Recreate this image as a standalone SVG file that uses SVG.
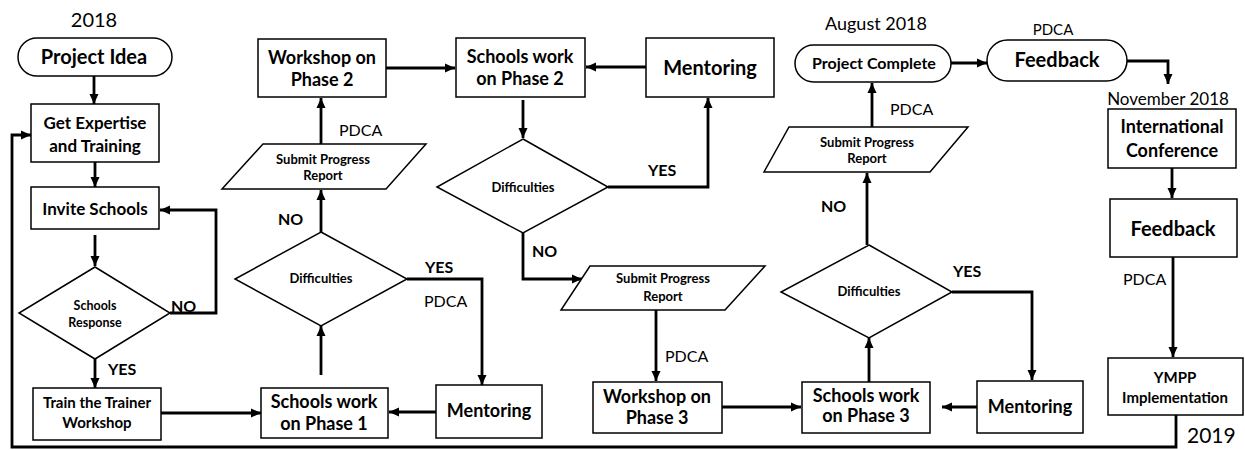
<svg xmlns="http://www.w3.org/2000/svg" width="1245" height="450" viewBox="0 0 1245 450">
<style>
.shape{fill:#fff;stroke:#000;stroke-width:1.5}
.conn{fill:none;stroke:#000;stroke-width:2.8;marker-end:url(#ah)}
.loop{fill:none;stroke:#000;stroke-width:2.8}
text{font-family:Lato,"Liberation Sans",sans-serif;fill:#000}
.b{font-weight:bold;text-anchor:middle}
.l{font-weight:bold}
.n{font-weight:normal}
</style>
<defs>
<marker id="ah" markerUnits="userSpaceOnUse" markerWidth="10" markerHeight="10" viewBox="0 0 10 10" refX="10" refY="5" orient="auto">
<path d="M0,0.5 L10,5 L0,9.5 Z" fill="#000"/>
</marker>
</defs>
<rect width="1245" height="450" fill="#fff"/>
<g id="connectors">
<path class="conn" d="M94,76 V104"/>
<path class="conn" d="M95,162 V187"/>
<path class="conn" d="M95,235 V266"/>
<path class="conn" d="M170,313 H216 V210 H160"/>
<path class="conn" d="M95,359 V388"/>
<path class="conn" d="M161,413 H261"/>
<path class="conn" d="M436,412 H389"/>
<path class="conn" d="M321,375 V326"/>
<path class="conn" d="M407,279 H482 V385"/>
<path class="conn" d="M321,232 V190"/>
<path class="conn" d="M321,144 V98"/>
<path class="conn" d="M386,68 H455"/>
<path class="conn" d="M646,67 H586"/>
<path class="conn" d="M523,100 V138"/>
<path class="conn" d="M608,187 H708 V98"/>
<path class="conn" d="M523,233 V279 H582"/>
<path class="conn" d="M656,310 V381"/>
<path class="conn" d="M722,407 H801"/>
<path class="conn" d="M977,407 H942"/>
<path class="conn" d="M869,382 V338"/>
<path class="conn" d="M952,292 H1032 V380"/>
<path class="conn" d="M867,245 V173"/>
<path class="conn" d="M872,127 V83"/>
<path class="conn" d="M951,63 H987"/>
<path class="conn" d="M1127,61 H1168 V84"/>
<path class="conn" d="M1172,168 V198"/>
<path class="conn" d="M1173,257 V357"/>
<path class="conn" d="M1176,415 V447 H12 V135 H31"/>
</g>
<g id="n-year2018"><text class="n" x="94" y="27" text-anchor="middle" font-size="20">2018</text></g>
<g id="n-project-idea"><rect class="shape" x="18" y="38" width="154" height="38" rx="19"/><text class="b" x="94" y="64" font-size="20">Project Idea</text></g>
<g id="n-expertise"><rect class="shape" x="31" y="104" width="128" height="58"/><text class="b" x="95" y="129" font-size="17">Get Expertise</text><text class="b" x="95" y="152" font-size="17">and Training</text></g>
<g id="n-invite"><rect class="shape" x="31" y="187" width="128" height="42"/><text class="b" x="95" y="215" font-size="17">Invite Schools</text></g>
<g id="n-response"><polygon class="shape" points="95,267 170,313 95,359 19,313"/><text class="b" x="95" y="310" font-size="12.5">Schools</text><text class="b" x="95" y="327" font-size="12.5">Response</text></g>
<g id="lbl-1"><text class="l" x="171" y="312" font-size="16">NO</text><text class="l" x="108" y="375" font-size="16">YES</text></g>
<g id="n-train"><rect class="shape" x="33" y="388" width="128" height="52"/><text class="b" x="97" y="408" font-size="15">Train the Trainer</text><text class="b" x="97" y="428" font-size="15">Workshop</text></g>
<g id="n-phase1"><rect class="shape" x="261" y="388" width="127" height="50"/><text class="b" x="324" y="408" font-size="18">Schools work</text><text class="b" x="324" y="430" font-size="18">on Phase 1</text></g>
<g id="n-mentoring1"><rect class="shape" x="436" y="385" width="106" height="53"/><text class="b" x="489" y="417" font-size="18">Mentoring</text></g>
<g id="n-diff1"><polygon class="shape" points="321,232 407,279 321,326 235,279"/><text class="b" x="321" y="283" font-size="13">Difficulties</text></g>
<g id="lbl-2"><text class="l" x="425" y="273" font-size="16">YES</text><text class="n" x="424" y="307" font-size="16">PDCA</text><text class="l" x="278" y="225" font-size="16">NO</text><text class="n" x="339" y="136" font-size="16">PDCA</text></g>
<g id="n-spr1"><polygon class="shape" points="263,144 426,144 386,189 222,189"/><text class="b" x="323" y="164" font-size="13">Submit Progress</text><text class="b" x="323" y="180" font-size="13">Report</text></g>
<g id="n-workshop2"><rect class="shape" x="258" y="39" width="128" height="58"/><text class="b" x="322" y="64" font-size="18">Workshop on</text><text class="b" x="322" y="86" font-size="18">Phase 2</text></g>
<g id="n-phase2"><rect class="shape" x="456" y="38" width="129" height="59"/><text class="b" x="520" y="63" font-size="18">Schools work</text><text class="b" x="520" y="85" font-size="18">on Phase 2</text></g>
<g id="n-mentoring2"><rect class="shape" x="646" y="38" width="128" height="59"/><text class="b" x="710" y="75" font-size="20">Mentoring</text></g>
<g id="n-diff2"><polygon class="shape" points="523,139 608,187 523,233 437,187"/><text class="b" x="523" y="192" font-size="13">Difficulties</text></g>
<g id="lbl-3"><text class="l" x="648" y="176" font-size="16">YES</text><text class="l" x="532" y="257" font-size="16">NO</text><text class="n" x="665" y="362" font-size="16">PDCA</text></g>
<g id="n-spr2"><polygon class="shape" points="590,266 765,266 725,310 561,310"/><text class="b" x="663" y="283" font-size="13">Submit Progress</text><text class="b" x="663" y="301" font-size="13">Report</text></g>
<g id="n-workshop3"><rect class="shape" x="593" y="382" width="129" height="51"/><text class="b" x="657" y="403" font-size="18">Workshop on</text><text class="b" x="657" y="424" font-size="18">Phase 3</text></g>
<g id="n-phase3"><rect class="shape" x="802" y="382" width="128" height="51"/><text class="b" x="866" y="402" font-size="18">Schools work</text><text class="b" x="866" y="422" font-size="18">on Phase 3</text></g>
<g id="n-mentoring3"><rect class="shape" x="977" y="381" width="106" height="52"/><text class="b" x="1030" y="413" font-size="18">Mentoring</text></g>
<g id="n-diff3"><polygon class="shape" points="869,245 952,292 869,338 781,292"/><text class="b" x="869" y="296" font-size="13">Difficulties</text></g>
<g id="lbl-4"><text class="l" x="953" y="277" font-size="16">YES</text><text class="l" x="821" y="212" font-size="16">NO</text><text class="n" x="890" y="115" font-size="16">PDCA</text></g>
<g id="n-spr3"><polygon class="shape" points="789,127 968,127 930,172 764,172"/><text class="b" x="867" y="147" font-size="13">Submit Progress</text><text class="b" x="867" y="163" font-size="13">Report</text></g>
<g id="n-complete"><text class="n" x="876" y="30" text-anchor="middle" font-size="18">August 2018</text><rect class="shape" x="795" y="45" width="156" height="37" rx="18.5"/><text class="b" x="874" y="69" font-size="16">Project Complete</text></g>
<g id="n-feedback1"><text class="n" x="1053" y="35" text-anchor="middle" font-size="15">PDCA</text><rect class="shape" x="987" y="40" width="140" height="41" rx="20.5"/><text class="b" x="1057" y="67" font-size="20">Feedback</text></g>
<g id="n-conference"><text class="n" x="1168" y="105" text-anchor="middle" font-size="17">November 2018</text><rect class="shape" x="1108" y="109" width="128" height="59"/><text class="b" x="1172" y="133" font-size="18">International</text><text class="b" x="1172" y="157" font-size="18">Conference</text></g>
<g id="n-feedback2"><rect class="shape" x="1110" y="199" width="127" height="58"/><text class="b" x="1173" y="236" font-size="20">Feedback</text></g>
<g id="lbl-5"><text class="n" x="1123" y="285" font-size="16">PDCA</text></g>
<g id="n-ympp"><rect class="shape" x="1108" y="358" width="135" height="57"/><text class="b" x="1175" y="383" font-size="15">YMPP</text><text class="b" x="1175" y="403" font-size="15">Implementation</text></g>
<g id="n-year2019"><text class="n" x="1187" y="443" font-size="21">2019</text></g>
</svg>
